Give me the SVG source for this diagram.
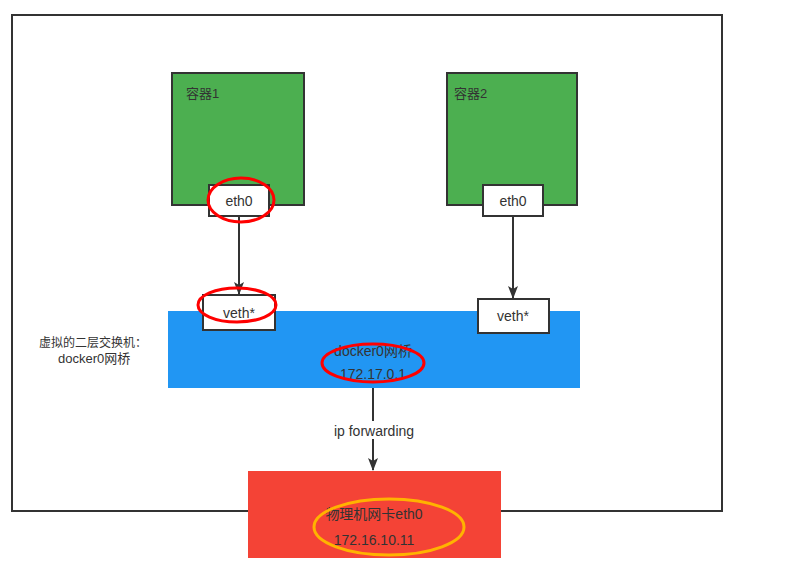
<svg xmlns="http://www.w3.org/2000/svg" width="808" height="564" viewBox="0 0 808 564">
<style>
text{font-family:"Liberation Sans","Noto Sans CJK SC",sans-serif;font-size:14px;fill:#333}
.c{text-anchor:middle}
.box{fill:#fff;stroke:#333;stroke-width:2}
.cont{fill:#4caf50;stroke:#333;stroke-width:2}
.red{fill:none;stroke:#f00;stroke-width:3}
.line{stroke:#333;stroke-width:2;fill:none}
</style>
<defs>
<marker id="arr" markerWidth="13" markerHeight="10" refX="12" refY="5" orient="auto" markerUnits="userSpaceOnUse" viewBox="0 0 13 10">
<path d="M0,0 L13,5 L0,10 L3,5 Z" fill="#333"/>
</marker>
</defs>
<rect width="808" height="564" fill="#fff"/>
<g id="frame"><rect x="12" y="15" width="710" height="496" fill="none" stroke="#333" stroke-width="2"/></g>
<g id="container1">
<rect class="cont" x="172" y="73" width="132" height="132"/>
<text x="186" y="98" style="font-size:13px">容器1</text>
</g>
<g id="container2">
<rect class="cont" x="447" y="73" width="130" height="132"/>
<text x="454" y="98" style="font-size:13px">容器2</text>
</g>
<g id="bridge">
<rect x="168" y="311" width="412" height="77" fill="#2196f3"/>
<text class="c" x="373" y="356">docker0网桥</text>
<text class="c" x="373" y="379">172.17.0.1</text>
<ellipse class="red" cx="373" cy="363" rx="51" ry="19"/>
</g>
<g id="bridge-label">
<text x="39" y="347" style="font-size:12px">虚拟的二层交换机：</text>
<text x="58" y="363" style="font-size:13px">docker0网桥</text>
</g>
<g id="connectors">
<line class="line" x1="239" y1="216" x2="239" y2="294" marker-end="url(#arr)"/>
<line class="line" x1="513" y1="216" x2="513" y2="298" marker-end="url(#arr)"/>
<line class="line" x1="373" y1="388" x2="373" y2="470" marker-end="url(#arr)"/>
<rect x="328" y="421" width="90" height="18" fill="#fff"/>
<text class="c" x="374" y="436">ip forwarding</text>
</g>
<g id="eth0-1">
<rect class="box" x="209" y="185" width="60" height="31"/>
<text class="c" x="239" y="206">eth0</text>
<ellipse class="red" cx="241" cy="200" rx="33" ry="22"/>
</g>
<g id="eth0-2">
<rect class="box" x="483" y="185" width="60" height="31"/>
<text class="c" x="513" y="206">eth0</text>
</g>
<g id="veth1">
<rect class="box" x="203" y="295" width="72" height="35"/>
<text class="c" x="239" y="318">veth*</text>
<ellipse class="red" cx="237" cy="305" rx="39" ry="17"/>
</g>
<g id="veth2">
<rect class="box" x="478" y="299" width="71" height="34"/>
<text class="c" x="513" y="321">veth*</text>
</g>
<g id="host-nic">
<rect x="248" y="471" width="253" height="87" fill="#f44336"/>
<text class="c" x="374" y="519">物理机网卡eth0</text>
<text class="c" x="374" y="545">172.16.10.11</text>
<ellipse cx="389" cy="527" rx="75" ry="28" fill="none" stroke="#ffb300" stroke-width="3"/>
</g>
</svg>
